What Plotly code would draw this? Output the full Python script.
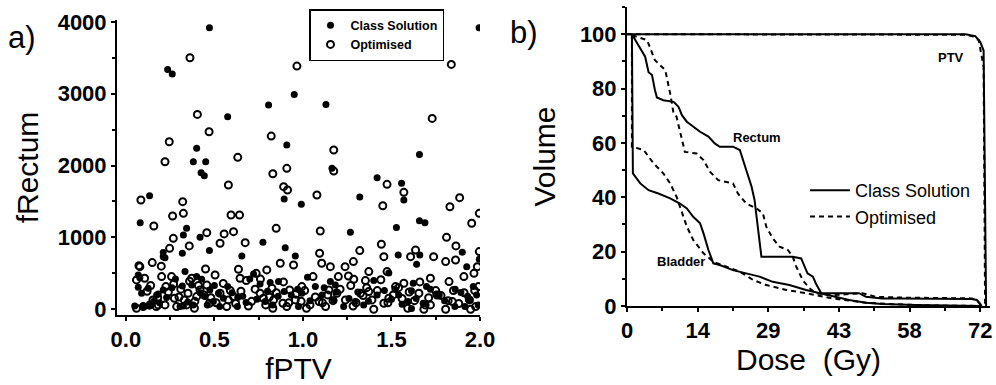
import plotly.graph_objects as go

# ---- panel a) scatter: fPTV vs fRectum ----
class_x = [0.472, 0.236, 0.262, 1.995, 0.575, 0.806, 0.951, 1.13, 0.40, 0.381, 0.451, 0.425, 0.443,
           0.909, 0.894, 0.991, 1.164, 0.134, 0.081, 1.419, 1.321, 1.557, 1.570, 1.528, 1.658, 1.658,
           1.689, 1.268, 0.343, 0.325, 0.419, 0.472, 0.655, 0.774, 0.90, 0.957, 0.319, 0.211, 0.221,
           1.538, 1.66, 1.642, 1.90, 1.925, 1.996,
           0.05, 0.07, 0.089, 0.079, 0.132, 0.126, 0.183, 0.211, 0.23, 0.306, 0.325, 0.319, 0.334,
           0.372, 0.40, 0.428, 0.447, 0.474, 0.494, 0.523, 0.551, 0.575, 0.630, 0.632, 0.679, 0.721,
           0.758, 0.787, 0.815, 0.862, 0.894, 0.934, 0.975, 0.994, 1.026, 1.07, 1.108, 1.155, 1.183,
           1.174, 1.23, 1.296, 1.343, 1.40, 1.419, 1.485, 1.50, 1.541, 1.594, 1.613, 1.623, 1.613,
           1.679, 1.698, 1.751, 1.77, 1.858, 1.892, 1.915, 1.943, 1.962, 1.981,
           0.16, 0.19, 0.26, 0.28, 0.35, 0.38, 0.42, 0.46, 0.50, 0.53, 0.60, 0.66, 0.70, 0.74, 0.80,
           0.83, 0.86, 0.97, 1.04, 1.12, 1.19, 1.26, 1.31, 1.37, 1.46, 1.52, 1.56, 1.64, 1.72, 1.80,
           1.86, 1.93, 1.99, 0.07, 0.098, 0.211, 0.174]
class_y = [3917, 3337, 3272, 3917, 2679, 2841, 2990, 2850, 2239, 2053, 2053, 1900, 1859,
           2285, 1534, 1460, 1961, 1580, 1205, 1831, 1562, 1752, 1520, 1136, 2155, 1233,
           1205, 1071, 1126, 1034, 1001, 816, 742, 932, 857, 742, 779, 788, 718,
           756, 756, 626, 793, 593, 695,
           46, 306, 222, 440, 46, 292, 213, 269, 162, 37, 46, 324, 524,
           338, 454, 417, 176, 269, 107, 222, 153, 315, 37, 162, 93, 491,
           352, 107, 371, 385, 246, 199, 37, 222, 445, 315, 199, 385, 338,
           130, 37, 107, 60, 399, 199, 505, 139, 199, 107, 259, 362, 10,
           83, 315, 208, 199, 37, 232, 37, 130, 315, 199,
           120, 90, 300, 420, 100, 60, 230, 60, 330, 40, 230, 180, 420, 140, 250,
           60, 180, 280, 120, 300, 240, 150, 240, 110, 260, 280, 70, 150, 280, 120,
           280, 180, 60, 477, 36, 731, 199]

opt_x = [0.362, 0.966, 1.838, 0.404, 0.47, 0.245, 0.221, 0.632, 0.579, 0.821, 0.83, 0.909, 0.891,
         0.913, 1.174, 1.174, 1.730, 0.085, 0.158, 0.321, 0.325, 0.264, 0.594, 0.642, 0.608, 0.532,
         0.555, 0.457, 0.849, 1.079, 1.098, 1.451, 1.475, 1.57, 1.830, 1.885, 1.953, 1.996, 1.811,
         1.864, 1.443, 1.321, 1.094, 0.674, 0.247, 0.358, 0.074, 0.149,
         0.06, 0.098, 0.06, 0.106, 0.153, 0.172, 0.221, 0.202, 0.226, 0.258, 0.274, 0.287, 0.343,
         0.351, 0.372, 0.387, 0.40, 0.419, 0.457, 0.472, 0.504, 0.532, 0.57, 0.579, 0.608, 0.636,
         0.645, 0.692, 0.736, 0.758, 0.777, 0.796, 0.825, 0.834, 0.83, 0.872, 0.887, 0.909, 0.925,
         0.957, 0.947, 0.994, 1.02, 1.057, 1.091, 1.106, 1.128, 1.147, 1.155, 1.192, 1.20, 1.238,
         1.257, 1.285, 1.287, 1.283, 1.325, 1.353, 1.372, 1.372, 1.40, 1.457, 1.457, 1.475, 1.485,
         1.523, 1.57, 1.592, 1.636, 1.608, 1.655, 1.683, 1.72, 1.72, 1.738, 1.758, 1.806, 1.825,
         1.806, 1.844, 1.862, 1.909, 1.966, 1.985, 1.975, 1.947, 1.996, 1.992,
         0.12, 0.14, 0.18, 0.20, 0.24, 0.27, 0.30, 0.31, 0.33, 0.36, 0.39, 0.41, 0.44, 0.45, 0.48,
         0.51, 0.55, 0.59, 0.62, 0.65, 0.68, 0.71, 0.73, 0.76, 0.79, 0.81, 0.85, 0.89, 0.92, 0.96,
         0.99, 1.01, 1.04, 1.07, 1.11, 1.14, 1.17, 1.21, 1.24, 1.27, 1.30, 1.34, 1.36, 1.39, 1.42,
         1.44, 1.48, 1.51, 1.54, 1.56, 1.60, 1.63, 1.66, 1.69, 1.71, 1.75, 1.78, 1.82, 1.85, 1.88,
         1.91, 1.94, 1.97, 0.079, 0.136, 0.183, 0.268]
opt_y = [3499, 3384, 3407, 2711, 2470, 2331, 2053, 2114, 1729, 2410, 1886, 1961, 1706,
         1659, 2216, 1923, 2656, 1520, 1159, 1497, 1335, 1298, 1312, 1312, 1080, 918,
         1048, 1066, 1126, 1590, 1089, 1441, 1738, 1627, 1427, 1553, 1196, 1335, 1001,
         881, 904, 816, 779, 927, 848, 881, 607, 649,
         14, 37, 408, 431, 130, 37, 60, 454, 315, 454, 153, 37, 60,
         222, 431, 14, 176, 269, 338, 83, 477, 222, 37, 130, 176, 556,
         431, 46, 500, 222, 153, 547, 292, 130, 14, 640, 83, 37, 269,
         130, 616, 315, 14, 454, 107, 640, 37, 269, 593, 222, 454, 593,
         463, 663, 417, 46, 222, 399, 246, 524, 0, 83, 732, 524, 153,
         315, 362, 14, 825, 732, 222, 0, 60, 431, 732, 199, 663, 385,
         0, 107, 686, 454, 500, 593, 37, 0, 802, 315,
         250, 330, 160, 600, 240, 350, 170, 280, 130, 390, 110, 330, 200, 560, 160,
         90, 360, 260, 80, 250, 400, 110, 280, 420, 60, 170, 230, 380, 90, 210,
         110, 260, 60, 170, 90, 200, 120, 280, 130, 330, 90, 190, 300, 130, 260,
         410, 90, 200, 300, 150, 240, 120, 380, 60, 160, 260, 190, 120, 260, 80,
         230, 130, 260, 593, 60, 60, 987]

# ---- panel b) dose-volume histograms ----
ptv_cs_dose = [0, 1, 30, 69, 71, 72, 72.7, 73.2]
ptv_cs_vol = [100, 100, 100, 100, 99.3, 97.2, 94, 0]
ptv_op_dose = [0, 1, 30, 69, 70.5, 71.7, 72.7, 73.0]
ptv_op_vol = [100, 100, 100, 99.8, 99.2, 97.8, 88, 0]

rectum_cs_dose = [1, 2, 3.7, 4.4, 5.1, 5.7, 6.1, 7.4, 9.5, 10.5, 11.2, 12.2, 13.5, 14.9, 16.6, 17.9,
                  18.9, 21.6, 23, 24.3, 25.4, 26, 26.7, 27.4, 28.4, 33.8, 35.5, 36.2, 36.8, 37.9,
                  38.5, 39.6, 41.9, 47.3, 48.7, 52, 55.4, 70.3, 71.3, 72, 72.3]
rectum_cs_vol = [100, 97, 91.7, 86, 85, 79.4, 76.7, 75.7, 75.1, 73.3, 70.2, 67.8, 65.9, 64.1, 62.3, 59.8,
                 58.6, 58.6, 57.4, 50, 43.9, 39, 29.2, 18.1, 18.1, 18.1, 17.5, 14.5, 12, 10.8,
                 8.3, 4.7, 4.7, 4.7, 3.4, 2.8, 2.8, 2.6, 2.2, 0.4, 0]
rectum_op_dose = [1, 4.1, 5.7, 6.8, 7.8, 8.8, 9.5, 10.1, 11.2, 11.8, 14.2, 15.6, 16.9, 18.6, 21.6, 22.6,
                  24.3, 26.4, 27.7, 28.4, 29.7, 31.1, 32.8, 33.8, 34.5, 35.8, 37.2, 38.5, 41.9, 48,
                  50.7, 55.4, 70.3, 71.6, 72.3]
rectum_op_vol = [99.6, 97.8, 90.4, 88.6, 86.8, 78.2, 70.8, 69.6, 61, 56.7, 56.1, 53.7, 49.4, 46.3, 45.1, 41.4,
                 37.7, 35.9, 34.1, 29.2, 24.9, 21.8, 20.6, 18.1, 14.5, 9.6, 6.5, 4.7, 4, 4.7,
                 3.4, 3.1, 2.8, 1.6, 0]

bladder_cs_dose = [1, 1.2, 2.7, 4.4, 6.4, 8.8, 10.8, 12.2, 13.5, 14.9, 15.6, 16.6, 17.6, 18.9, 21.6, 24.3,
                   27, 29.7, 33.1, 36.5, 39.2, 41.9, 45.3, 48.7, 52, 58.8, 69, 72.3]
bladder_cs_vol = [100, 48.8, 45.1, 42.6, 41.4, 39.6, 37.7, 35.9, 32.8, 30.4, 26.7, 20.6, 15.7, 15.1, 13.2, 12,
                  10.8, 8.9, 7.7, 5.9, 4.7, 3.7, 2.2, 1.2, 0.7, 0.4, 0.1, 0]
bladder_op_dose = [1, 1, 3.4, 5.4, 7.4, 8.8, 10.1, 11.2, 12.2, 13.5, 15.6, 17.6, 20.3, 23, 25.7, 28.4,
                   32.5, 36.5, 41.9, 48.7, 55.4, 62.2, 72.3]
bladder_op_vol = [100, 58.6, 57.4, 52.5, 48.8, 45.1, 40.2, 34.1, 29.2, 24.3, 19.4, 16.3, 14.5, 12.6, 9.6, 7.7,
                  5.9, 4.7, 2.8, 1.2, 0.6, 0.2, 0]

dose_ticks = [0, 14.4, 28.8, 43.2, 57.6, 72]
dose_labels = ["0", "14", "29", "43", "58", "72"]

FONT = "Liberation Sans, Arial, sans-serif"

fig = go.Figure()

fig.add_trace(go.Scatter(
    x=class_x, y=class_y, mode="markers", name="Class Solution",
    marker=dict(symbol="circle", size=7, color="black"),
    xaxis="x", yaxis="y", legend="legend"))
fig.add_trace(go.Scatter(
    x=opt_x, y=opt_y, mode="markers", name="Optimised",
    marker=dict(symbol="circle-open", size=7, color="black", line=dict(width=2, color="black")),
    xaxis="x", yaxis="y", legend="legend"))

solid = dict(color="black", width=2)
dashed = dict(color="black", width=2, dash="5px,4px")
curves = [
    (ptv_cs_dose, ptv_cs_vol, solid, "Class Solution", True),
    (ptv_op_dose, ptv_op_vol, dashed, "Optimised", True),
    (rectum_cs_dose, rectum_cs_vol, solid, "Class Solution", False),
    (rectum_op_dose, rectum_op_vol, dashed, "Optimised", False),
    (bladder_cs_dose, bladder_cs_vol, solid, "Class Solution", False),
    (bladder_op_dose, bladder_op_vol, dashed, "Optimised", False),
]
for dx, vy, ln, nm, show in curves:
    fig.add_trace(go.Scatter(
        x=dx, y=vy, mode="lines", line=ln, name=nm, showlegend=show,
        legendgroup=nm, xaxis="x2", yaxis="y2", legend="legend2"))

minor_style = dict(ticks="outside", ticklen=3, tickwidth=1.5, tickcolor="black", tick0=0)
axis_common = dict(showline=True, linecolor="black", linewidth=2, ticks="outside",
                   ticklen=4, tickwidth=2, tickcolor="black", showgrid=False, zeroline=False,
                   automargin=False,
                   tickfont=dict(family=FONT, size=22, color="black", weight="bold"),
                   title_font=dict(family=FONT, size=30, color="black"))

fig.update_layout(
    width=996, height=385,
    margin=dict(l=0, r=0, t=0, b=0, autoexpand=False),
    paper_bgcolor="white", plot_bgcolor="white",
    xaxis=dict(domain=[117/996, 480/996], range=[-0.05, 2.0], anchor="y",
               tickvals=[0, 0.5, 1.0, 1.5, 2.0], ticktext=["0.0", "0.5", "1.0", "1.5", "2.0"],
               minor=dict(dtick=0.25, **minor_style),
               title=dict(text="fPTV", standoff=0), **axis_common),
    yaxis=dict(domain=[70/385, 365/385], range=[-80, 4025], anchor="x",
               tickvals=[0, 1000, 2000, 3000, 4000],
               minor=dict(dtick=500, **minor_style),
               title=dict(text="fRectum", standoff=10), **axis_common),
    xaxis2=dict(domain=[627/996, 990/996], range=[0, 74], anchor="y2",
                tickvals=dose_ticks, ticktext=dose_labels,
                minor=dict(dtick=7.2, **minor_style),
                title=dict(text="Dose  (Gy)", standoff=2), **axis_common),
    yaxis2=dict(domain=[79/385, 378/385], range=[0, 110], anchor="x2",
                tickvals=[0, 20, 40, 60, 80, 100],
                minor=dict(dtick=10, **minor_style),
                title=dict(text="Volume", standoff=15), **axis_common),
    legend=dict(x=309/996, y=1 - 9/385, xanchor="left", yanchor="top",
                bordercolor="black", borderwidth=1.5, bgcolor="white",
                font=dict(family=FONT, size=12.5, color="black", weight="bold"),
                tracegroupgap=0, itemwidth=30),
    legend2=dict(x=805/996, y=1 - 172/385, xanchor="left", yanchor="top",
                 bgcolor="rgba(0,0,0,0)", borderwidth=0,
                 font=dict(family=FONT, size=18, color="black"),
                 tracegroupgap=0, itemwidth=40),
    annotations=[
        dict(text="a)", x=6/996, y=1 - 18/385, xref="paper", yref="paper", xanchor="left",
             yanchor="top", showarrow=False, font=dict(family=FONT, size=31, color="black")),
        dict(text="b)", x=508/996, y=1 - 13/385, xref="paper", yref="paper", xanchor="left",
             yanchor="top", showarrow=False, font=dict(family=FONT, size=31, color="black")),
        dict(text="Rectum", x=26.5, y=62, xref="x2", yref="y2", showarrow=False,
             font=dict(family=FONT, size=13, color="black", weight="bold")),
        dict(text="Bladder", x=11, y=16.5, xref="x2", yref="y2", showarrow=False,
             font=dict(family=FONT, size=13, color="black", weight="bold")),
        dict(text="PTV", x=66, y=91.5, xref="x2", yref="y2", showarrow=False,
             font=dict(family=FONT, size=13, color="black", weight="bold")),
    ],
)

fig.write_html("out.html")
